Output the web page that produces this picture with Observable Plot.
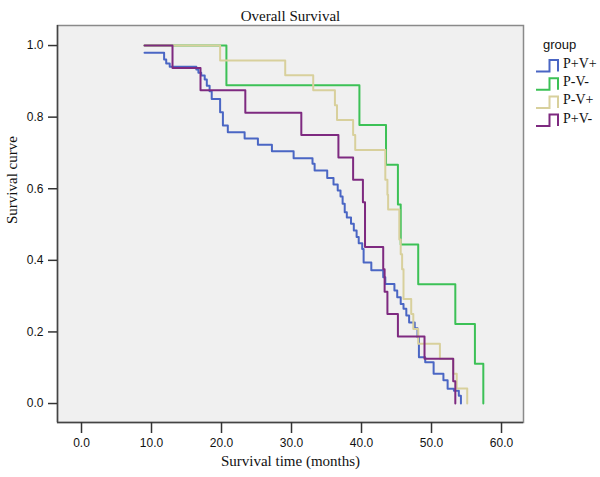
<!DOCTYPE html>
<html>
<head>
<meta charset="utf-8">
<script src="https://cdn.jsdelivr.net/npm/d3@7"></script>
<script src="https://cdn.jsdelivr.net/npm/@observablehq/plot@0.6"></script>
<style>
  html, body { margin: 0; padding: 0; background: #fff; }
  #wrap { position: relative; width: 600px; height: 477px; }
  #legend { position: absolute; left: 0; top: 0; pointer-events: none; }
</style>
</head>
<body>
<div id="wrap"></div>
<script>
// ---- data ----
const groups = ["P+V+", "P-V-", "P-V+", "P+V-"];
const colors = ["#4a66c4", "#3cc156", "#d8d09c", "#7e2a80"];

const pvpTime = [9, 11.8, 12.1, 12.6, 16.4, 16.7, 17.1, 17.6, 17.9, 18.3, 18.6, 19.8, 20.2, 20.9, 23.3, 25.2, 27.2, 30.3, 33.0, 33.3, 35.1, 36.0, 36.6, 37.0, 37.3, 37.6, 37.9, 38.5, 38.9, 39.3, 39.6, 40.1, 40.3, 41.4, 43.1, 43.4, 44.7, 45.1, 45.6, 46.0, 46.4, 46.8, 47.6, 48.0, 48.2, 49.1, 50.3, 51.7, 52.3, 53.2, 53.9, 54.2];
const pvpSurv = [0.98, 0.961, 0.950, 0.941, 0.933, 0.924, 0.916, 0.905, 0.888, 0.872, 0.851, 0.814, 0.777, 0.758, 0.740, 0.723, 0.705, 0.685, 0.670, 0.651, 0.630, 0.612, 0.595, 0.578, 0.558, 0.534, 0.520, 0.502, 0.483, 0.465, 0.448, 0.432, 0.394, 0.372, 0.353, 0.334, 0.316, 0.297, 0.278, 0.265, 0.246, 0.226, 0.210, 0.185, 0.129, 0.115, 0.083, 0.065, 0.041, 0.036, 0.022, 0];

const pmvmTime = [9, 20.7, 39.7, 43.5, 45.2, 45.6, 48.1, 53.4, 56.2, 57.4];
const pmvmSurv = [1, 0.889, 0.778, 0.667, 0.556, 0.444, 0.333, 0.222, 0.111, 0];

const pmvpTime = [9, 19.8, 29.1, 33.1, 36.2, 36.5, 38.8, 39.1, 43.4, 43.7, 43.8, 45.4, 45.6, 45.8, 46.0, 47.1, 47.4, 48.1, 51.2, 53.1, 53.6, 55.1];
const pmvpSurv = [1, 0.958, 0.917, 0.875, 0.833, 0.792, 0.750, 0.708, 0.625, 0.583, 0.542, 0.458, 0.417, 0.375, 0.292, 0.250, 0.208, 0.167, 0.125, 0.083, 0.042, 0];

const ppvmTime = [9, 13.0, 17.0, 23.4, 31.4, 36.7, 38.8, 40.2, 40.5, 43.1, 43.3, 43.7, 45.2, 49.0, 53.1, 53.4];
const ppvmSurv = [1, 0.9375, 0.875, 0.8125, 0.75, 0.6875, 0.625, 0.5625, 0.4375, 0.375, 0.3125, 0.25, 0.1875, 0.125, 0.0625, 0];

const xTicks = [0, 10, 20, 30, 40, 50, 60];
const yTicks = [0, 0.2, 0.4, 0.6, 0.8, 1.0];
const xDomain = [-3.43, 63.14];
const yDomain = [-0.053, 1.056];

// ---- build table ----
const series = [
  [groups[0], pvpTime, pvpSurv],
  [groups[1], pmvmTime, pmvmSurv],
  [groups[2], pmvpTime, pmvpSurv],
  [groups[3], ppvmTime, ppvmSurv]
];
const data = series.flatMap(([g, t, s]) => t.map((time, i) => ({group: g, time, surv: s[i]})));

const serif = "'Liberation Serif', 'Times New Roman', serif";
const sans = "'Liberation Sans', Arial, sans-serif";

const chart = Plot.plot({
  width: 600,
  height: 477,
  marginLeft: 57,
  marginRight: 77,
  marginTop: 25,
  marginBottom: 55,
  style: {background: "#fff", fontFamily: sans, fontSize: "12px", color: "#111"},
  x: {domain: xDomain},
  y: {domain: yDomain},
  color: {domain: groups, range: colors},
  marks: [
    Plot.frame({fill: "#f0f0f0", stroke: "#8a8a8a", strokeWidth: 1.5}),
    Plot.ruleX([xDomain[0]], {stroke: "#444", strokeWidth: 1.5}),
    Plot.ruleY([yDomain[0]], {stroke: "#444", strokeWidth: 1.5}),
    Plot.axisY(yTicks, {tickSize: 9, tickPadding: 5, tickFormat: d => d.toFixed(1), label: null, stroke: "#333", strokeWidth: 1.5, fontSize: 12}),
    Plot.axisX(xTicks, {tickSize: 11, tickPadding: 5, tickFormat: d => d.toFixed(1), label: null, stroke: "#333", strokeWidth: 1.5, fontSize: 12}),
    Plot.line(data, {x: "time", y: "surv", z: "group", stroke: "group", curve: "step-after", strokeWidth: 2}),
    Plot.text(["Overall Survival"], {frameAnchor: "top", dy: -15, fontFamily: serif, fontSize: 15, fill: "#111"}),
    Plot.text(["Survival time (months)"], {frameAnchor: "bottom", dy: 43, fontFamily: serif, fontSize: 15, fill: "#111"}),
    Plot.text(["Survival curve"], {frameAnchor: "left", dx: -45, rotate: -90, fontFamily: serif, fontSize: 15, fill: "#111"})
  ]
});

const wrap = document.getElementById("wrap");
wrap.appendChild(chart);

// ---- legend (right side) ----
const ns = "http://www.w3.org/2000/svg";
const lg = document.createElementNS(ns, "svg");
lg.setAttribute("id", "legend");
lg.setAttribute("width", 600);
lg.setAttribute("height", 477);
const title = document.createElementNS(ns, "text");
title.setAttribute("x", 543);
title.setAttribute("y", 49);
title.setAttribute("font-family", sans);
title.setAttribute("font-size", 13);
title.setAttribute("fill", "#111");
title.textContent = "group";
lg.appendChild(title);
groups.forEach((g, i) => {
  const c = 63 + i * 18.2;
  const p = document.createElementNS(ns, "path");
  p.setAttribute("d", `M536,${c + 8.5}H549.5V${c - 3}H558V${c + 8.5}`);
  p.setAttribute("fill", "none");
  p.setAttribute("stroke", colors[i]);
  p.setAttribute("stroke-width", 2);
  lg.appendChild(p);
  const t = document.createElementNS(ns, "text");
  t.setAttribute("x", 563);
  t.setAttribute("y", c + 5);
  t.setAttribute("font-family", serif);
  t.setAttribute("font-size", 14);
  t.setAttribute("fill", "#111");
  t.textContent = g;
  lg.appendChild(t);
});
wrap.appendChild(lg);
</script>
</body>
</html>
